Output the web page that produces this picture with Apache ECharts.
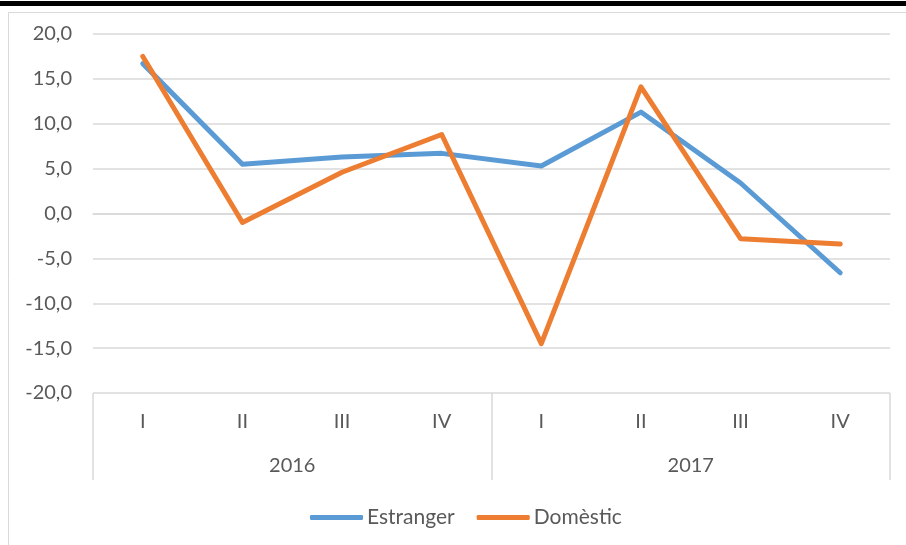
<!DOCTYPE html>
<html>
<head>
<meta charset="utf-8">
<script src="https://cdn.jsdelivr.net/npm/echarts@6/dist/echarts.min.js"></script>
<style>html,body{margin:0;padding:0;background:#fff}#c{width:906px;height:545px}</style>
</head>
<body>
<div id="c"></div>
<script>
var quarters = ['I','II','III','IV','I','II','III','IV'];
var years = ['2016','2017'];
var estranger = [16.7, 5.5, 6.3, 6.7, 5.3, 11.3, 3.4, -6.6];
var domestic = [17.5, -1.0, 4.6, 8.8, -14.5, 14.1, -2.8, -3.4];
var seriesNames = ['Estranger', 'Domèstic'];

var FONT = 'Lato';
var chart = echarts.init(document.getElementById('c'));
chart.setOption({
  backgroundColor: '#fff',
  animation: false,
  graphic: [
    {type:'rect', shape:{x:8.5, y:12.5, width:920, height:560}, style:{fill:'none', stroke:'#d9d9d9', lineWidth:1}},
    {type:'rect', shape:{x:0, y:1, width:906, height:5}, style:{fill:'#000'}}
  ],
  grid: {left: 93, right: 16, top: 34, bottom: 152},
  legend: {
    top: 502, left: 305,
    icon: 'roundRect', itemWidth: 53, itemHeight: 5, itemGap: 22,
    textStyle: {fontFamily: FONT, fontSize: 21, color: '#595959', padding:[0,0,0,-1]},
    data: seriesNames
  },
  xAxis: [
    {
      type: 'category', data: quarters, boundaryGap: true,
      axisLine: {show: true, lineStyle: {color: '#d9d9d9', width: 1.5}},
      axisTick: {show: false},
      axisLabel: {margin: 19, fontFamily: FONT, fontSize: 20, color: '#595959'}
    },
    {
      type: 'category', data: years, boundaryGap: true, position: 'bottom',
      axisLine: {show: false},
      axisTick: {show: true, length: 87, lineStyle: {color: '#d9d9d9', width: 1.5}},
      axisLabel: {margin: 63, fontFamily: FONT, fontSize: 20, color: '#595959'}
    }
  ],
  yAxis: {
    type: 'value', min: -20, max: 20, interval: 5,
    axisLine: {show: false}, axisTick: {show: false},
    splitLine: {lineStyle: {color: '#d9d9d9', width: 1.5}},
    axisLabel: {margin: 21, fontFamily: FONT, fontSize: 20, color: '#595959',
      formatter: function (v) { return v.toFixed(1).replace('.', ','); }}
  },
  series: [
    {name: seriesNames[0], type: 'line', xAxisIndex: 0, data: estranger, symbol: 'none',
     color: '#5B9BD5', lineStyle: {width: 5, cap: 'round', join: 'round', color: '#5B9BD5'}},
    {name: seriesNames[1], type: 'line', xAxisIndex: 0, data: domestic, symbol: 'none',
     color: '#ED7D31', lineStyle: {width: 5, cap: 'round', join: 'round', color: '#ED7D31'}}
  ]
});
</script>
</body>
</html>
